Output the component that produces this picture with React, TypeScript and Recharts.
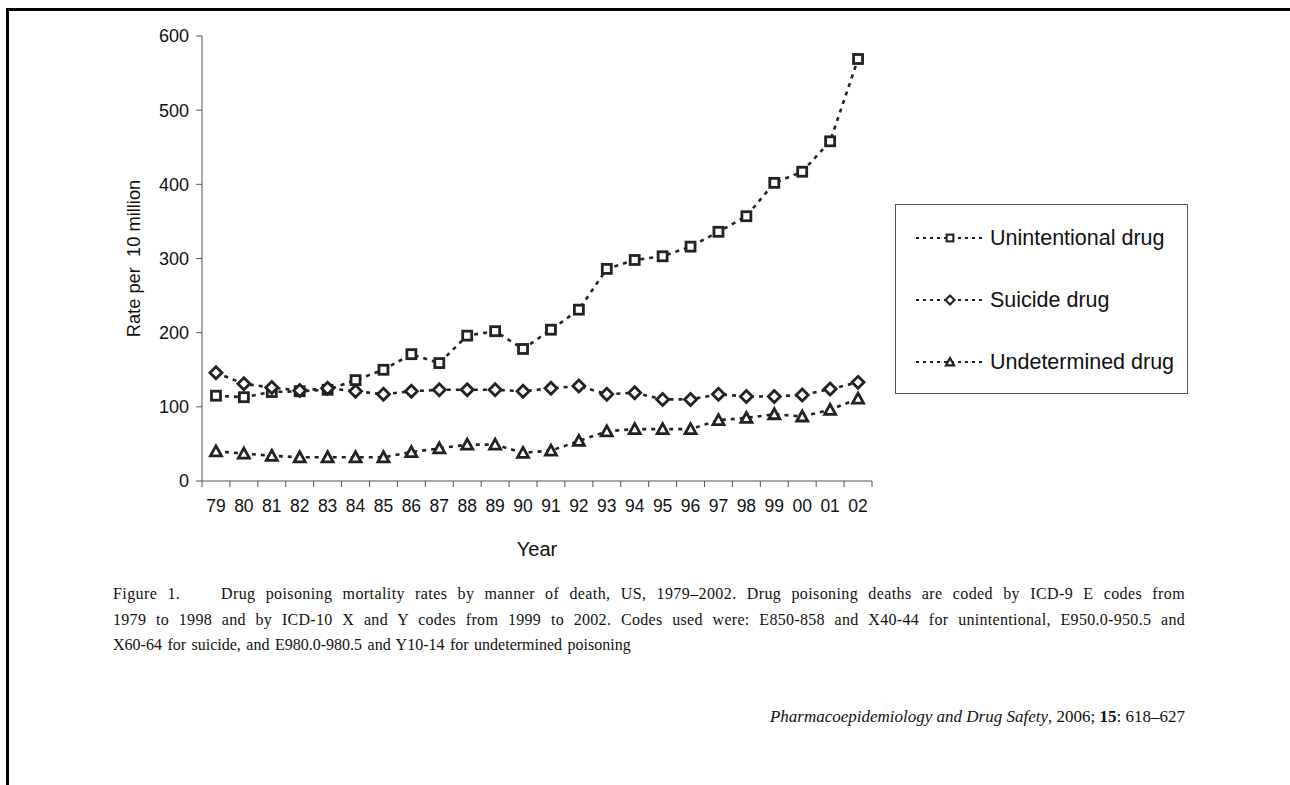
import React from 'react'
import { LineChart, Line, XAxis, YAxis } from 'recharts'

const years = ['79', '80', '81', '82', '83', '84', '85', '86', '87', '88', '89', '90', '91', '92', '93', '94', '95', '96', '97', '98', '99', '00', '01', '02']
const unintentional = [115, 113, 120, 121, 123, 136, 150, 171, 159, 196, 202, 178, 204, 231, 286, 298, 303, 316, 336, 357, 402, 417, 458, 569]
const suicide = [146, 131, 126, 122, 125, 121, 117, 121, 123, 123, 123, 121, 125, 128, 117, 119, 110, 110, 117, 114, 114, 116, 124, 133]
const undetermined = [40, 37, 34, 32, 32, 32, 32, 39, 44, 49, 49, 38, 41, 54, 67, 70, 70, 70, 82, 85, 90, 87, 96, 111]
const yTicks = [0, 100, 200, 300, 400, 500, 600]
const seriesNames = ['Unintentional drug', 'Suicide drug', 'Undetermined drug']

const data = years.map((y, i) => ({
  i,
  unintentional: unintentional[i],
  suicide: suicide[i],
  undetermined: undetermined[i],
}))

const labelTicks = years.map((_, i) => i)
const gridTicks = [...years.map((_, i) => i - 0.5), years.length - 0.5]

const INK = '#222'
const SANS = '"Liberation Sans", Arial, sans-serif'
const SERIF = '"Liberation Serif", "Times New Roman", serif'

function Marker({ kind, cx, cy, s = 1 }: { kind: string; cx: number; cy: number; s?: number }) {
  if (kind === 'square') {
    const h = 4.5 * s
    return <rect x={cx - h} y={cy - h} width={h * 2} height={h * 2} fill="#fff" stroke={INK} strokeWidth={2.8 * s} />
  }
  if (kind === 'diamond') {
    const h = 6 * s
    return (
      <path
        d={`M${cx},${cy - h} L${cx + h},${cy} L${cx},${cy + h} L${cx - h},${cy} Z`}
        fill="#fff"
        stroke={INK}
        strokeWidth={2.8 * s}
      />
    )
  }
  const h = 5.5 * s
  return (
    <path
      d={`M${cx},${cy - h} L${cx + h},${cy + h * 0.82} L${cx - h},${cy + h * 0.82} Z`}
      fill="#fff"
      stroke={INK}
      strokeWidth={2.8 * s}
    />
  )
}

const dotFor = (kind: string) => (props: any) => (
  <Marker key={`${kind}-${props.index}`} kind={kind} cx={props.cx} cy={props.cy} />
)

const kinds = ['square', 'diamond', 'triangle']

function LegendBox() {
  return (
    <div
      style={{
        position: 'absolute',
        left: 895,
        top: 204,
        width: 293,
        height: 190,
        border: '1px solid #555',
        boxSizing: 'border-box',
        background: '#fff',
      }}
    >
      {seriesNames.map((name, k) => (
        <div
          key={name}
          style={{
            position: 'absolute',
            left: 19,
            top: 33 + k * 62 - 14,
            height: 28,
            display: 'flex',
            alignItems: 'center',
          }}
        >
          <svg width={70} height={20} style={{ display: 'block' }}>
            <line x1={1} y1={10} x2={68} y2={10} stroke={INK} strokeWidth={2.2} strokeDasharray="3 4" />
            <Marker kind={kinds[k]} cx={35} cy={10} s={0.75} />
          </svg>
          <span style={{ fontFamily: SANS, fontSize: 21.5, color: '#111', marginLeft: 5 }}>{name}</span>
        </div>
      ))}
    </div>
  )
}

const YLabel = (props: any) => {
  const { viewBox } = props
  const cx = 133
  const cy = viewBox.y + viewBox.height / 2
  return (
    <text
      x={cx}
      y={cy}
      transform={`rotate(-90, ${cx}, ${cy})`}
      textAnchor="middle"
      dominantBaseline="central"
      fontFamily={SANS}
      fontSize={18.3}
      fill="#111"
      style={{ whiteSpace: 'pre' }}
    >
      {'Rate per\u00a0 10 million'}
    </text>
  )
}

const XLabel = (props: any) => {
  const { viewBox } = props
  return (
    <text
      x={viewBox.x + viewBox.width / 2}
      y={549}
      textAnchor="middle"
      dominantBaseline="central"
      fontFamily={SANS}
      fontSize={20}
      fill="#111"
    >
      Year
    </text>
  )
}

export default function App() {
  return (
    <div style={{ position: 'absolute', left: 0, top: 0, width: 1290, height: 785, background: '#fff', overflow: 'hidden' }}>
      <div style={{ position: 'absolute', left: 6, top: 8, width: 1290, height: 3, background: '#000' }} />
      <div style={{ position: 'absolute', left: 6, top: 8, width: 3, height: 785, background: '#000' }} />
      <div style={{ position: 'absolute', left: 0, top: 0 }}>
        <LineChart width={1290} height={560} data={data} margin={{ top: 36, right: 418, bottom: 33, left: 122 }}>
          <XAxis
            xAxisId="grid"
            dataKey="i"
            type="number"
            domain={[-0.5, years.length - 0.5]}
            ticks={gridTicks}
            interval={0}
            tickFormatter={() => ''}
            height={6}
            tickSize={6}
            stroke="#555"
            axisLine={{ stroke: '#555' }}
          />
          <XAxis
            xAxisId="lab"
            dataKey="i"
            type="number"
            domain={[-0.5, years.length - 0.5]}
            ticks={labelTicks}
            interval={0}
            tickFormatter={(v: number) => years[v] ?? ''}
            axisLine={false}
            tickLine={false}
            tickMargin={7}
            height={40}
            tick={{ fontFamily: SANS, fontSize: 17.5, fill: '#111' }}
            label={<XLabel />}
          />
          <YAxis
            domain={[0, 600]}
            ticks={yTicks}
            interval={0}
            width={80}
            tickSize={6}
            tickMargin={7}
            stroke="#555"
            tick={{ fontFamily: SANS, fontSize: 18, fill: '#111' }}
            label={<YLabel />}
          />
          <Line
            xAxisId="grid"
            dataKey="unintentional"
            name={seriesNames[0]}
            stroke={INK}
            strokeWidth={2.6}
            strokeDasharray="4 5"
            dot={dotFor('square')}
            isAnimationActive={false}
          />
          <Line
            xAxisId="grid"
            dataKey="suicide"
            name={seriesNames[1]}
            stroke={INK}
            strokeWidth={2.6}
            strokeDasharray="4 5"
            dot={dotFor('diamond')}
            isAnimationActive={false}
          />
          <Line
            xAxisId="grid"
            dataKey="undetermined"
            name={seriesNames[2]}
            stroke={INK}
            strokeWidth={2.6}
            strokeDasharray="4 5"
            dot={dotFor('triangle')}
            isAnimationActive={false}
          />
        </LineChart>
      </div>
      <LegendBox />
      <div style={{ position: 'absolute', left: 113, top: 581, width: 1072, fontFamily: SERIF, fontSize: 16, lineHeight: '25.5px', color: '#111' }}>
        <div style={{ textAlign: 'justify', textAlignLast: 'justify', letterSpacing: 0.4, whiteSpace: 'nowrap' as any }}>
          {'Figure 1.\u00a0\u00a0\u00a0 Drug poisoning mortality rates by manner of death, US, 1979\u20132002. Drug poisoning deaths are coded by ICD-9 E codes from'}
        </div>
        <div style={{ textAlign: 'justify', textAlignLast: 'justify', letterSpacing: 0.3 }}>
          1979 to 1998 and by ICD-10 X and Y codes from 1999 to 2002. Codes used were: E850-858 and X40-44 for unintentional, E950.0-950.5 and
        </div>
        <div style={{ wordSpacing: 1.5 }}>X60-64 for suicide, and E980.0-980.5 and Y10-14 for undetermined poisoning</div>
      </div>
      <div
        style={{
          position: 'absolute',
          right: 105,
          top: 707,
          fontFamily: SERIF,
          fontSize: 17,
          color: '#111',
          whiteSpace: 'nowrap',
        }}
      >
        <i>Pharmacoepidemiology and Drug Safety</i>, 2006; <b>15</b>: 618–627
      </div>
    </div>
  )
}
